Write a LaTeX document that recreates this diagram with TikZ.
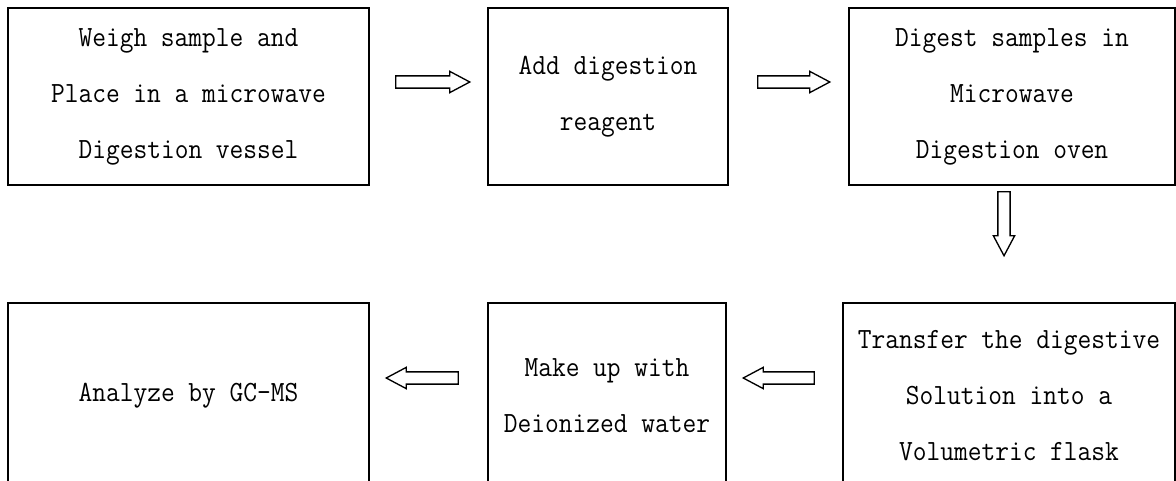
\documentclass[tikz,border=0pt]{standalone}
\usepackage{fontspec}
\usepackage{tikz}
\usetikzlibrary{shapes.arrows}
\newfontfamily\stepfont[FakeStretch=0.91]{Latin Modern Mono}

\begin{document}
\begin{tikzpicture}[
		x=0.75pt, y=-0.75pt,
		every node/.style={draw, line width=1.5pt, align=center, anchor=north west,
			font=\stepfont\fontsize{22}{42}\selectfont},
		blockarrow/.style={single arrow, draw, line width=1pt, anchor=center,
			inner sep=4.1pt, single arrow head extend=3.4pt, single arrow tip angle=56,
			minimum height=#1*0.75pt}
	]
  \useasboundingbox (0,0) rectangle (1176,481);
  \clip (0,0) rectangle (1176,481);
  \node (weigh) [minimum width=361*0.75pt, minimum height=177*0.75pt] at (7,7)
    {Weigh sample and\\Place in a microwave\\Digestion vessel};
  \node (reagent) [minimum width=240*0.75pt, minimum height=177*0.75pt] at (487,7)
    {Add digestion\\reagent};
  \node (digest) [minimum width=326*0.75pt, minimum height=177*0.75pt] at (848,7)
    {Digest samples in\\Microwave\\Digestion oven};
  \node (analyze) [minimum width=361*0.75pt, minimum height=185*0.75pt] at (7,302)
    {Analyze by GC-MS};
  \node (makeup) [minimum width=238*0.75pt, minimum height=185*0.75pt] at (487,302)
    {Make up with\\Deionized water};
  \node (transfer) [minimum width=332*0.75pt, minimum height=185*0.75pt] at (842,302)
    {Transfer the digestive\\Solution into a\\Volumetric flask};
  % block arrows between the steps
  \node (a_1) [blockarrow=74] at (427,82) {};
  \node (a_2) [blockarrow=72] at (788,82) {};
  \node (a_3) [blockarrow=64, shape border rotate=270] at (1004,218) {};
  \node (a_4) [blockarrow=71, shape border rotate=180] at (784.5,378) {};
  \node (a_5) [blockarrow=72, shape border rotate=180] at (428,378) {};
\end{tikzpicture}
\end{document}
